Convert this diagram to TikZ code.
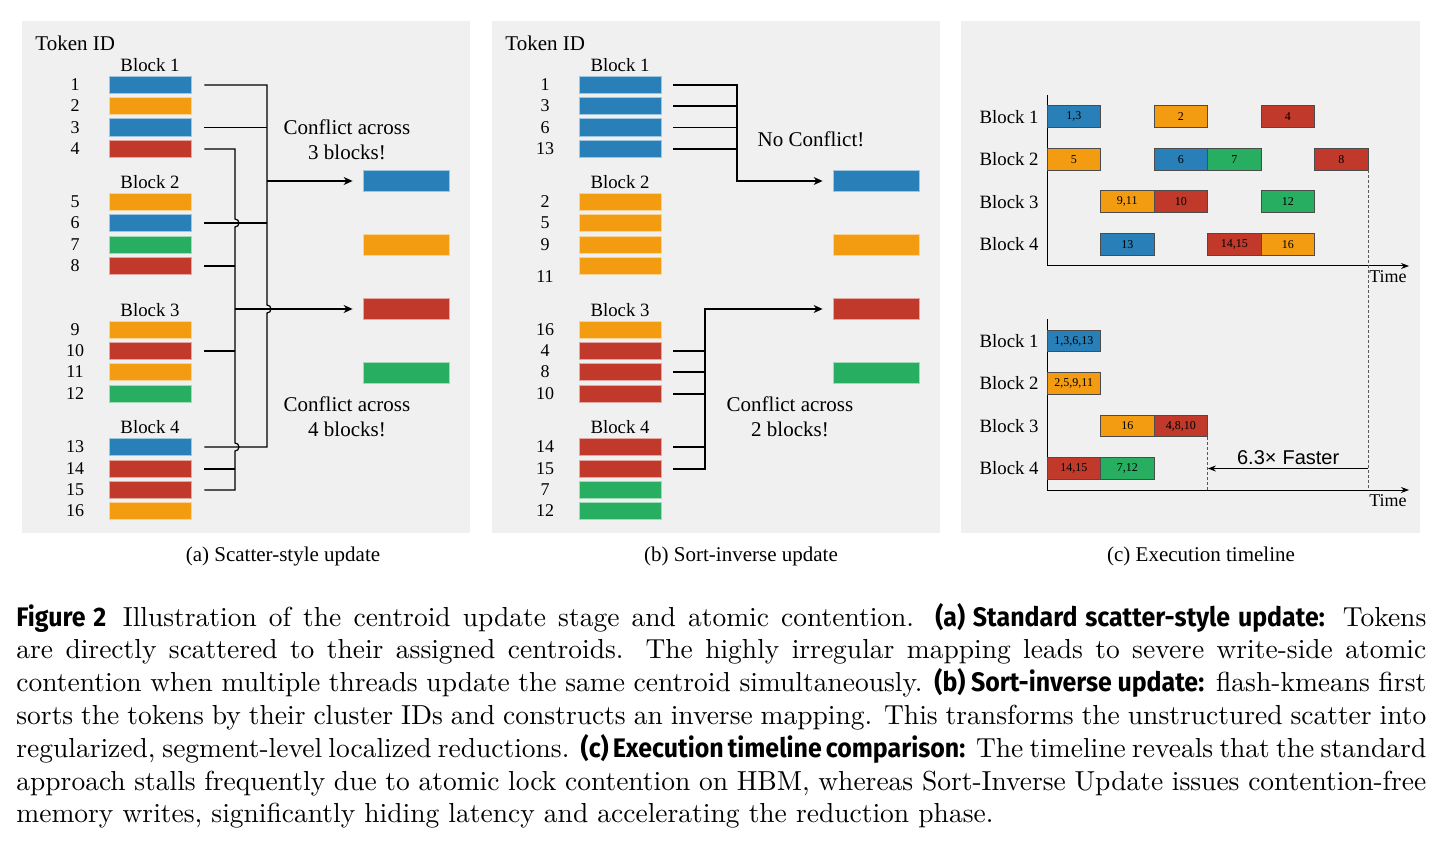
\documentclass[tikz,border=0pt]{standalone}
\usepackage{fontspec}
\usepackage{graphicx}
\usetikzlibrary{arrows.meta,calc}
\newfontfamily\serifd{Liberation Serif}
\newfontfamily\sansd{Liberation Sans}
\newfontfamily\capbold[FakeStretch=0.93]{Fira Sans}
\newcommand\capb[1]{{\capbold\bfseries\fontsize{9.75}{11.93}\selectfont #1}}
\definecolor{cb}{HTML}{2980B9}
\definecolor{co}{HTML}{F39C12}
\definecolor{cr}{HTML}{C0392B}
\definecolor{cg}{HTML}{27AE60}
\definecolor{panel}{HTML}{F0F0F0}
\begin{document}
\begin{tikzpicture}[x=0.5pt, y=-0.5pt,
  bar/.style={fill=#1, draw=#1!45!white, line width=0.4pt, minimum width=41pt, minimum height=8.75pt, inner sep=0pt},
  tgt/.style={fill=#1, draw=#1!45!white, line width=0.4pt, minimum width=43pt, minimum height=10.5pt, inner sep=0pt},
  num/.style={font=\serifd\fontsize{9}{10}\selectfont, inner sep=0pt},
  blk/.style={font=\serifd\fontsize{9.4}{10}\selectfont, inner sep=0pt},
  note/.style={font=\serifd\fontsize{10.5}{12.5}\selectfont, align=center, inner sep=0pt},
  wire/.style={line width=0.6pt},
  arr/.style={-{Stealth[length=4.5pt,width=4pt]}},
  tbox/.style={fill=#1, draw=black!70, line width=0.4pt, minimum width=26.75pt, minimum height=10.85pt, inner sep=0pt, font=\serifd\fontsize{6}{7}\selectfont},
  taxis/.style={line width=0.5pt, -{Stealth[length=4pt,width=3pt]}},
  guide/.style={draw=black!65, line width=0.5pt, dash pattern=on 1.5pt off 1pt}]
\useasboundingbox (0,0) rectangle (1443,844);
\fill[white] (0,0) rectangle (1443,844);
\fill[panel] (22,21) rectangle (470,533);
\fill[panel] (492,21) rectangle (940,533);
\fill[panel] (961,21) rectangle (1420,533);

% (a) scatter-style update
\node[anchor=west, note] (atitle) at (35,43) {Token ID};
\node[blk] (ablk1) at (150,65) {Block 1};
\node[blk] (ablk2) at (150,182) {Block 2};
\node[blk] (ablk3) at (150,310) {Block 3};
\node[blk] (ablk4) at (150,427) {Block 4};
\node[num] (an1) at (75,85) {1}; \node[bar=cb] (a1) at (150,85) {};
\node[num] (an2) at (75,106) {2}; \node[bar=co] (a2) at (150,106) {};
\node[num] (an3) at (75,127.5) {3}; \node[bar=cb] (a3) at (150,127.5) {};
\node[num] (an4) at (75,149) {4}; \node[bar=cr] (a4) at (150,149) {};
\node[num] (an5) at (75,202) {5}; \node[bar=co] (a5) at (150,202) {};
\node[num] (an6) at (75,223) {6}; \node[bar=cb] (a6) at (150,223) {};
\node[num] (an7) at (75,245) {7}; \node[bar=cg] (a7) at (150,245) {};
\node[num] (an8) at (75,266) {8}; \node[bar=cr] (a8) at (150,266) {};
\node[num] (an9) at (75,330) {9}; \node[bar=co] (a9) at (150,330) {};
\node[num] (an10) at (75,351) {10}; \node[bar=cr] (a10) at (150,351) {};
\node[num] (an11) at (75,372) {11}; \node[bar=co] (a11) at (150,372) {};
\node[num] (an12) at (75,394) {12}; \node[bar=cg] (a12) at (150,394) {};
\node[num] (an13) at (75,447) {13}; \node[bar=cb] (a13) at (150,447) {};
\node[num] (an14) at (75,469) {14}; \node[bar=cr] (a14) at (150,469) {};
\node[num] (an15) at (75,490) {15}; \node[bar=cr] (a15) at (150,490) {};
\node[num] (an16) at (75,511) {16}; \node[bar=co] (a16) at (150,511) {};
\node[tgt=cb] (at1) at (406,181) {};
\node[tgt=co] (at2) at (406,245) {};
\node[tgt=cr] (at3) at (406,309) {};
\node[tgt=cg] (at4) at (406,373) {};
\node[note] (anote1) at (347,139.5) {Conflict across\\3 blocks!};
\node[note] (anote2) at (347,417) {Conflict across\\4 blocks!};
\coordinate (abt) at (267,181);
\coordinate (art) at (235,309);
\draw[wire] ([xshift=6.5pt]a1.east) -- (a1.east -| abt) -- ($(art -| abt)+(0,-4)$)
  arc[start angle=90, end angle=-90, radius=2pt] -- (a13.east -| abt) -- ([xshift=6.5pt]a13.east);
\draw[wire] ([xshift=6.5pt]a3.east) -- (a3.east -| abt);
\draw[wire] ([xshift=6.5pt]a6.east) -- (a6.east -| abt);
\draw[wire, arr] (abt) -- ([xshift=-5pt]at1.west);
\draw[wire] ([xshift=6.5pt]a4.east) -- (a4.east -| art) -- ($(a6.east -| art)+(0,-4)$)
  arc[start angle=90, end angle=-90, radius=2pt] -- ($(a13.east -| art)+(0,-4)$)
  arc[start angle=90, end angle=-90, radius=2pt] -- (a15.east -| art) -- ([xshift=6.5pt]a15.east);
\draw[wire] ([xshift=6.5pt]a8.east) -- (a8.east -| art);
\draw[wire] ([xshift=6.5pt]a10.east) -- (a10.east -| art);
\draw[wire] ([xshift=6.5pt]a14.east) -- (a14.east -| art);
\draw[wire, arr] (art) -- ([xshift=-5pt]at3.west);

% (b) sort-inverse update
\node[anchor=west, note] (btitle) at (505,43) {Token ID};
\node[blk] (bblk1) at (620,65) {Block 1};
\node[blk] (bblk2) at (620,182) {Block 2};
\node[blk] (bblk3) at (620,310) {Block 3};
\node[blk] (bblk4) at (620,427) {Block 4};
\node[num] (bn1) at (545,85) {1}; \node[bar=cb] (b1) at (620,85) {};
\node[num] (bn2) at (545,106) {3}; \node[bar=cb] (b2) at (620,106) {};
\node[num] (bn3) at (545,127.5) {6}; \node[bar=cb] (b3) at (620,127.5) {};
\node[num] (bn4) at (545,149) {13}; \node[bar=cb] (b4) at (620,149) {};
\node[num] (bn5) at (545,202) {2}; \node[bar=co] (b5) at (620,202) {};
\node[num] (bn6) at (545,223) {5}; \node[bar=co] (b6) at (620,223) {};
\node[num] (bn7) at (545,245) {9}; \node[bar=co] (b7) at (620,245) {};
\node[num] (bn8) at (545,277) {11}; \node[bar=co] (b8) at (620,266) {};
\node[num] (bn9) at (545,330) {16}; \node[bar=co] (b9) at (620,330) {};
\node[num] (bn10) at (545,351) {4}; \node[bar=cr] (b10) at (620,351) {};
\node[num] (bn11) at (545,372) {8}; \node[bar=cr] (b11) at (620,372) {};
\node[num] (bn12) at (545,394) {10}; \node[bar=cr] (b12) at (620,394) {};
\node[num] (bn13) at (545,447) {14}; \node[bar=cr] (b13) at (620,447) {};
\node[num] (bn14) at (545,469) {15}; \node[bar=cr] (b14) at (620,469) {};
\node[num] (bn15) at (545,490) {7}; \node[bar=cg] (b15) at (620,490) {};
\node[num] (bn16) at (545,511) {12}; \node[bar=cg] (b16) at (620,511) {};
\node[tgt=cb] (bt1) at (876,181) {};
\node[tgt=co] (bt2) at (876,245) {};
\node[tgt=cr] (bt3) at (876,309) {};
\node[tgt=cg] (bt4) at (876,373) {};
\node[note] (bnote1) at (811,139) {No Conflict!};
\node[note] (bnote2) at (790,417) {Conflict across\\2 blocks!};
\coordinate (bbt) at (737,181);
\coordinate (brt) at (705,309);
\draw[wire, arr] ([xshift=6pt]b1.east) -- (b1.east -| bbt) -- (bbt) -- ([xshift=-5pt]bt1.west);
\draw[wire] ([xshift=6pt]b2.east) -- (b2.east -| bbt);
\draw[wire] ([xshift=6pt]b3.east) -- (b3.east -| bbt);
\draw[wire] ([xshift=6pt]b4.east) -- (b4.east -| bbt);
\draw[wire, arr] ([xshift=6pt]b14.east) -- (b14.east -| brt) -- (brt) -- ([xshift=-5pt]bt3.west);
\draw[wire] ([xshift=6pt]b10.east) -- (b10.east -| brt);
\draw[wire] ([xshift=6pt]b11.east) -- (b11.east -| brt);
\draw[wire] ([xshift=6pt]b12.east) -- (b12.east -| brt);
\draw[wire] ([xshift=6pt]b13.east) -- (b13.east -| brt);

% (c) execution timeline
\coordinate (ctop) at (1047,95);
\coordinate (c0) at (1047,266);
\coordinate (cend) at (1409,266);
\coordinate (dtop) at (1047,319);
\coordinate (d0) at (1047,490);
\coordinate (dend) at (1409,490);
\draw[taxis] (ctop) -- (c0) -- (cend);
\draw[taxis] (dtop) -- (d0) -- (dend);
\node[blk, anchor=east] (cl1) at (1039,116.7) {Block 1};
\node[blk, anchor=east] (cl2) at (1039,159.2) {Block 2};
\node[blk, anchor=east] (cl3) at (1039,201.7) {Block 3};
\node[blk, anchor=east] (cl4) at (1039,244.2) {Block 4};
\node[blk, anchor=east] (dl1) at (1039,341) {Block 1};
\node[blk, anchor=east] (dl2) at (1039,383.5) {Block 2};
\node[blk, anchor=east] (dl3) at (1039,426) {Block 3};
\node[blk, anchor=east] (dl4) at (1039,468.5) {Block 4};
\node[tbox=cb] (c11) at (1073.75,116.7) {1,3};
\node[tbox=co] (c12) at (1180.75,116.7) {2};
\node[tbox=cr] (c13) at (1287.75,116.7) {4};
\node[tbox=co] (c21) at (1073.75,159.2) {5};
\node[tbox=cb] (c22) at (1180.75,159.2) {6};
\node[tbox=cg] (c23) at (1234.25,159.2) {7};
\node[tbox=cr] (c24) at (1341.25,159.2) {8};
\node[tbox=co] (c31) at (1127.25,201.7) {9,11};
\node[tbox=cr] (c32) at (1180.75,201.7) {10};
\node[tbox=cg] (c33) at (1287.75,201.7) {12};
\node[tbox=cb] (c41) at (1127.25,244.2) {13};
\node[tbox=cr] (c42) at (1234.25,244.2) {14,15};
\node[tbox=co] (c43) at (1287.75,244.2) {16};
\node[tbox=cb] (d11) at (1073.75,341) {1,3,6,13};
\node[tbox=co] (d21) at (1073.75,383.5) {2,5,9,11};
\node[tbox=co] (d31) at (1127.25,426) {16};
\node[tbox=cr] (d32) at (1180.75,426) {4,8,10};
\node[tbox=cr] (d41) at (1073.75,468.5) {14,15};
\node[tbox=cg] (d42) at (1127.25,468.5) {7,12};
\node[num] (ctime) at (1388,277) {Time};
\node[num] (dtime) at (1388,501) {Time};
\draw[guide] (c24.south east) -- (c24.south east |- d0);
\draw[guide] (d32.south east) -- (d32.south east |- d0);
\draw[line width=0.5pt, {Stealth[length=4pt,width=3pt]}-] (d32.east |- d41) -- (c24.east |- d41)
  node[midway, anchor=base, yshift=2pt, font=\sansd\fontsize{10}{12}\selectfont] (fast) {6.3×\hskip 3pt Faster};

% sub-captions
\node[note] (subA) at (283,556) {(a) Scatter-style update};
\node[note] (subB) at (741,556) {(b) Sort-inverse update};
\node[note] (subC) at (1201,556) {(c) Execution timeline};

% caption
\node[anchor=base west, inner sep=0pt] (cap) at (16,626) {\scalebox{1.375}{\parbox[t]{512.7pt}{\fontsize{10}{11.93}\selectfont
  \hyphenpenalty=10000 \tolerance=10000
  \capb{Figure 2}\hskip 6pt Illustration of the centroid update stage and atomic contention. \capb{(a) Standard scatter-style update:} Tokens\linebreak
  are directly scattered to their assigned centroids. The highly irregular mapping leads to severe write-side atomic\linebreak
  contention when multiple threads update the same centroid simultaneously. \capb{(b) Sort-inverse update:} flash-kmeans first\linebreak
  sorts the tokens by their cluster IDs and constructs an inverse mapping. This transforms the unstructured scatter into\linebreak
  regularized, segment-level localized reductions. \capb{(c) Execution timeline comparison:} The timeline reveals that the standard\linebreak
  approach stalls frequently due to atomic lock contention on HBM, whereas Sort-Inverse Update issues contention-free\linebreak
  memory writes, significantly hiding latency and accelerating the reduction phase.}}};
\end{tikzpicture}
\end{document}
